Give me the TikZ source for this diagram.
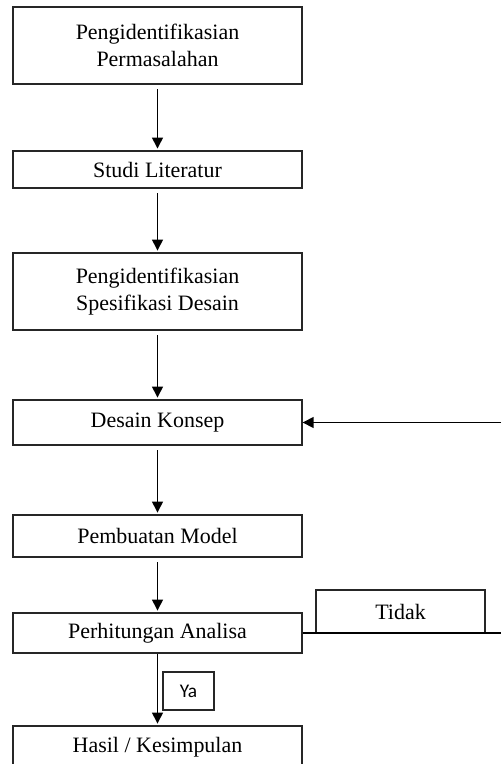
\documentclass[tikz,border=0pt]{standalone}
\usepackage{fontspec}
\setmainfont{Liberation Serif}
\newfontfamily\yafont{Carlito}
\usetikzlibrary{arrows.meta}

\begin{document}
\begin{tikzpicture}[x=0.02cm, y=-0.02cm,
		stepbox/.style={draw=black!85, line width=0.8pt, minimum width=5.78cm, inner sep=0pt, align=center, font=\fontsize{12.5}{15}\selectfont},
		tagbox/.style={draw=black!85, line width=0.8pt, inner sep=0pt},
		arr/.style={-{Triangle[length=0.22cm, width=0.22cm]}, line width=0.8pt, shorten <=2.5pt, shorten >=1pt}]
			%%%%% START %%%%%
			
			\useasboundingbox (0, 0) rectangle (501, 764);
			
			\node[stepbox, minimum height=1.54cm] (ident) at (157.5, 45.5) {Pengidentifikasian\\Permasalahan};
			\node[stepbox, minimum height=0.74cm] (studi) at (157.5, 169.5) {Studi Literatur};
			\node[stepbox, minimum height=1.54cm] (spek) at (157.5, 291.5) {Pengidentifikasian\\Spesifikasi Desain};
			\node[stepbox, minimum height=0.9cm] (konsep) at (157.5, 422.5) {Desain Konsep};
			\node[stepbox, minimum height=0.84cm] (model) at (157.5, 536) {Pembuatan Model};
			\node[stepbox, minimum height=0.8cm] (analisa) at (157.5, 633) {Perhitungan Analisa};
			\node[stepbox, minimum height=0.84cm] (hasil) at (157.5, 747) {Hasil / Kesimpulan};
			
			\node[tagbox, minimum width=3.38cm, minimum height=0.86cm, font=\fontsize{12.5}{15}\selectfont] (tidak) at (400.5, 611.5) {Tidak};
			\node[tagbox, minimum width=1.02cm, minimum height=0.76cm, font=\yafont\fontsize{11}{13}\selectfont] (ya) at (188.5, 691) {Ya};
			
			\coordinate (balik) at (501, 422.5);
			\coordinate (keluar) at (501, 633);
			
			\draw[arr] (ident) -- (studi);
			\draw[arr] (studi) -- (spek);
			\draw[arr] (spek) -- (konsep);
			\draw[arr] (konsep) -- (model);
			\draw[arr] (model) -- (analisa);
			\draw[arr, shorten <=0pt] (analisa) -- (hasil);
			
			\draw[arr, shorten <=0pt, shorten >=0pt] (balik) -- (konsep);
			\draw[line width=0.8pt] (analisa.east) -- (keluar);
			
			%%%%% END %%%%%
		\end{tikzpicture}
\end{document}
